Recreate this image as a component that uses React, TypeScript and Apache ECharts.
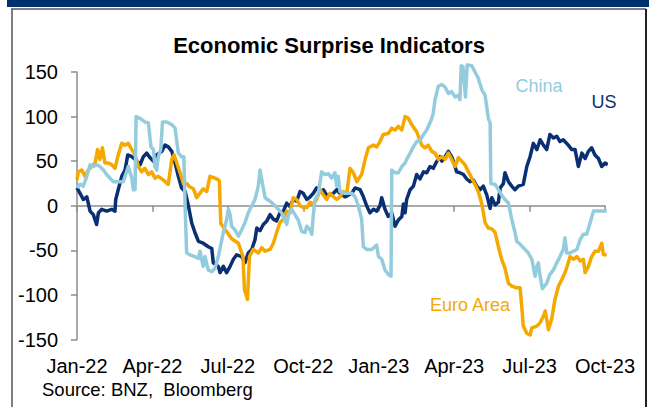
import React, { useEffect, useRef } from "react";
import * as echarts from "echarts";

// x values are months since Jan-2022
const tickLabels = ["Jan-22", "Apr-22", "Jul-22", "Oct-22", "Jan-23", "Apr-23", "Jul-23", "Oct-23"];

const usData: number[][] = [
  [0, 20], [0.12, 14], [0.25, 7], [0.39, 10], [0.52, -6], [0.65, -10], [0.78, -21], [0.85, -8], [0.98, -4], [1.18, -6], [1.38, -4], [1.51, -6], [1.54, 7], [1.64, 18], [1.78, 33], [1.91, 40], [2.02, 57], [2.18, 55], [2.31, 52], [2.51, 46], [2.64, 55], [2.77, 59], [2.9, 54], [3.04, 50], [3.17, 57], [3.37, 61], [3.5, 68], [3.63, 66], [3.77, 61], [3.9, 48], [4.03, 33], [4.16, 20], [4.3, 16], [4.43, 0], [4.56, -19], [4.69, -30], [4.83, -40], [5.02, -42], [5.22, -46], [5.36, -48], [5.42, -64], [5.62, -68], [5.69, -75], [5.82, -68], [5.95, -75], [6.09, -68], [6.22, -60], [6.35, -55], [6.55, -57], [6.68, -64], [6.81, -53], [6.95, -49], [7.08, -38], [7.15, -25], [7.28, -28], [7.41, -21], [7.55, -17], [7.68, -10], [7.81, -15], [7.94, -17], [8.07, -8], [8.21, -6], [8.34, 3], [8.47, -1], [8.6, 7], [8.74, 5], [8.87, 16], [9.0, 14], [9.14, 7], [9.27, 10], [9.4, 14], [9.53, 20], [9.67, 16], [9.8, 18], [9.93, 12], [10.06, 12], [10.2, 14], [10.33, 18], [10.46, 14], [10.66, 10], [10.93, 14], [11.06, 20], [11.26, 18], [11.39, 10], [11.52, 0], [11.65, -8], [11.79, -4], [11.92, -6], [12.05, 0], [12.12, 9], [12.25, -4], [12.38, -12], [12.52, -8], [12.65, -23], [12.78, -16], [12.92, -12], [12.98, 2], [13.05, -8], [13.11, 7], [13.25, 18], [13.38, 22], [13.51, 35], [13.64, 30], [13.78, 38], [13.91, 37], [14.04, 44], [14.17, 42], [14.31, 50], [14.44, 55], [14.51, 50], [14.64, 55], [14.77, 61], [14.9, 55], [14.97, 50], [15.1, 38], [15.23, 37], [15.37, 35], [15.5, 30], [15.63, 27], [15.76, 29], [15.9, 22], [16.03, 18], [16.16, 22], [16.3, 12], [16.43, -3], [16.5, 9], [16.63, 1], [16.76, 4], [16.83, 20], [16.96, 25], [17.02, 37], [17.16, 27], [17.29, 22], [17.42, 18], [17.55, 22], [17.75, 24], [17.89, 44], [18.02, 55], [18.15, 70], [18.29, 63], [18.42, 74], [18.55, 68], [18.68, 63], [18.81, 80], [18.95, 76], [19.08, 78], [19.21, 72], [19.34, 74], [19.54, 68], [19.68, 63], [19.81, 63], [19.94, 44], [20.08, 59], [20.21, 53], [20.34, 61], [20.47, 65], [20.6, 57], [20.74, 53], [20.87, 44], [21.0, 48], [21.11, 46],
];

const euroData: number[][] = [
  [0, 29], [0.05, 38], [0.19, 40], [0.32, 33], [0.45, 40], [0.58, 44], [0.72, 48], [0.82, 63], [0.91, 52], [1.01, 65], [1.11, 48], [1.25, 48], [1.38, 46], [1.51, 42], [1.64, 57], [1.78, 70], [1.91, 68], [2.04, 70], [2.18, 63], [2.31, 57], [2.44, 44], [2.57, 38], [2.7, 42], [2.84, 35], [2.97, 38], [3.1, 31], [3.23, 33], [3.43, 29], [3.63, 24], [3.77, 52], [3.86, 57], [3.97, 48], [4.1, 37], [4.23, 25], [4.36, 25], [4.49, 21], [4.63, 19], [4.76, 9], [4.89, 14], [5.02, 19], [5.16, 16], [5.29, 33], [5.49, 31], [5.62, 29], [5.66, 28], [5.72, -20], [6.15, -37], [6.42, -42], [6.6, -57], [6.66, -94], [6.78, -105], [6.86, -57], [7.01, -49], [7.21, -53], [7.35, -47], [7.48, -51], [7.68, -49], [7.81, -42], [7.94, -30], [8.07, -19], [8.21, -15], [8.34, -6], [8.47, -8], [8.6, 9], [8.74, 7], [8.87, 0], [9.0, -2], [9.14, -2], [9.27, 4], [9.4, 2], [9.53, 7], [9.67, 18], [9.8, 12], [9.93, 7], [10.06, 14], [10.2, 10], [10.33, 7], [10.46, 10], [10.59, 16], [10.73, 14], [10.86, 42], [10.99, 37], [11.13, 27], [11.32, 35], [11.46, 52], [11.59, 65], [11.79, 68], [11.92, 66], [12.05, 72], [12.18, 80], [12.38, 81], [12.52, 87], [12.65, 85], [12.78, 89], [12.92, 85], [13.05, 100], [13.18, 98], [13.31, 91], [13.51, 83], [13.71, 68], [13.84, 65], [13.97, 68], [14.11, 61], [14.24, 59], [14.37, 52], [14.51, 55], [14.64, 52], [14.77, 59], [14.9, 52], [15.04, 44], [15.17, 54], [15.3, 50], [15.43, 46], [15.57, 38], [15.7, 31], [15.83, 24], [15.96, 16], [16.1, 2], [16.23, -19], [16.36, -25], [16.5, -26], [16.63, -30], [16.76, -46], [16.89, -60], [17.02, -70], [17.16, -87], [17.29, -90], [17.49, -92], [17.62, -92], [17.69, -113], [17.75, -135], [17.89, -143], [18.02, -145], [18.09, -137], [18.29, -135], [18.42, -131], [18.55, -124], [18.62, -118], [18.68, -127], [18.75, -139], [18.88, -127], [19.01, -105], [19.15, -90], [19.28, -83], [19.41, -75], [19.54, -64], [19.61, -57], [19.74, -60], [19.88, -57], [20.01, -62], [20.14, -60], [20.21, -75], [20.34, -68], [20.47, -57], [20.6, -51], [20.74, -51], [20.87, -42], [20.94, -55], [21.07, -55],
];

const chinaData: number[][] = [
  [0, 20], [0.12, 24], [0.25, 22], [0.39, 33], [0.52, 46], [0.65, 44], [0.78, 46], [0.91, 44], [1.05, 40], [1.18, 35], [1.31, 31], [1.44, 27], [1.64, 27], [1.84, 27], [1.91, 33], [2.04, 44], [2.18, 31], [2.24, 18], [2.31, 18], [2.35, 100], [2.51, 98], [2.7, 94], [2.84, 93], [2.94, 66], [3.04, 63], [3.1, 44], [3.17, 40], [3.23, 55], [3.33, 63], [3.4, 94], [3.57, 94], [3.77, 91], [3.9, 87], [4.03, 59], [4.16, 55], [4.25, 55], [4.3, 0], [4.36, -53], [4.49, -55], [4.69, -57], [4.83, -59], [4.89, -51], [5.02, -68], [5.09, -57], [5.22, -72], [5.36, -74], [5.49, -70], [5.62, -57], [5.82, -30], [5.95, -16], [6.02, -4], [6.09, -10], [6.15, -23], [6.28, -27], [6.42, -34], [6.55, -27], [6.68, -19], [6.81, -8], [6.95, 0], [7.08, 7], [7.21, 22], [7.28, 40], [7.35, 29], [7.48, 9], [7.68, 5], [7.88, 0], [8.01, -4], [8.14, -8], [8.27, -16], [8.34, -21], [8.41, -10], [8.54, -4], [8.67, -10], [8.8, -16], [8.94, -29], [9.07, -30], [9.14, -23], [9.27, -27], [9.34, -32], [9.4, -10], [9.47, 7], [9.6, 14], [9.73, 38], [9.86, 35], [10.0, 36], [10.13, 31], [10.26, 37], [10.33, 22], [10.39, 33], [10.46, 16], [10.66, 14], [10.93, 14], [11.06, 10], [11.19, 0], [11.32, -15], [11.39, -46], [11.52, -49], [11.72, -49], [11.92, -44], [11.99, -57], [12.12, -60], [12.25, -72], [12.38, -77], [12.49, -79], [12.52, 40], [12.65, 37], [12.78, 37], [12.92, 44], [13.05, 48], [13.11, 52], [13.25, 59], [13.38, 66], [13.51, 72], [13.64, 73], [13.78, 80], [13.91, 85], [14.04, 93], [14.11, 98], [14.17, 104], [14.24, 119], [14.37, 134], [14.51, 136], [14.64, 133], [14.77, 126], [14.9, 128], [15.04, 122], [15.17, 124], [15.23, 119], [15.28, 157], [15.35, 156], [15.45, 122], [15.52, 158], [15.7, 157], [15.83, 150], [15.96, 143], [16.1, 130], [16.23, 124], [16.36, 98], [16.43, 93], [16.46, 25], [16.63, 24], [16.76, 18], [16.89, 12], [17.02, 7], [17.16, 3], [17.29, -15], [17.42, -30], [17.49, -40], [17.62, -43], [17.75, -47], [17.95, -53], [18.09, -60], [18.22, -79], [18.29, -68], [18.35, -64], [18.42, -79], [18.51, -93], [18.68, -87], [18.81, -77], [18.95, -72], [19.08, -64], [19.21, -57], [19.34, -49], [19.41, -36], [19.48, -53], [19.61, -53], [19.74, -51], [19.88, -49], [20.01, -38], [20.14, -32], [20.27, -32], [20.41, -19], [20.54, -6], [20.67, -6], [20.87, -6], [21.07, -6],
];

const FONT = "'Liberation Sans', Arial, Helvetica, sans-serif";
const US_COLOR = "#0a2f73";
const EURO_COLOR = "#f5a800";
const CHINA_COLOR = "#93cddd";
const AXIS_COLOR = "#8c8c8c";

export default function App() {
  const ref = useRef<HTMLDivElement>(null);
  useEffect(() => {
    if (!ref.current) return;
    const chart = echarts.init(ref.current, undefined, { renderer: "svg" });
    const lineSeries = (name: string, data: number[][], color: string) => ({
      name,
      type: "line",
      data,
      xAxisIndex: 0,
      yAxisIndex: 0,
      showSymbol: false,
      symbol: "none",
      clip: false,
      lineStyle: { color, width: 3.5, join: "round" },
      itemStyle: { color },
    });
    chart.setOption({
      animation: false,
      backgroundColor: "#ffffff",
      grid: { left: 77, right: 44, top: 72, bottom: 67.5, containLabel: false },
      xAxis: [
        {
          type: "value",
          min: 0,
          max: 21,
          interval: 3,
          axisLine: { show: true, onZero: true, lineStyle: { color: AXIS_COLOR, width: 1.5 } },
          axisTick: { show: true, length: 6, lineStyle: { color: AXIS_COLOR, width: 1.5 } },
          axisLabel: { show: false },
          splitLine: { show: false },
        },
        {
          type: "value",
          min: 0,
          max: 21,
          interval: 3,
          position: "bottom",
          axisLine: { show: false, onZero: false },
          axisTick: { show: false },
          axisLabel: {
            show: true,
            margin: 16,
            fontSize: 20,
            color: "#000",
            fontFamily: FONT,
            formatter: (v: number) => tickLabels[Math.round(v / 3)] ?? "",
          },
          splitLine: { show: false },
        },
      ],
      yAxis: {
        type: "value",
        min: -150,
        max: 150,
        interval: 50,
        axisLine: { show: true, lineStyle: { color: AXIS_COLOR, width: 1.5 } },
        axisTick: { show: true, length: 6, lineStyle: { color: AXIS_COLOR, width: 1.5 } },
        axisLabel: { fontSize: 20, color: "#000", fontFamily: FONT, margin: 19 },
        splitLine: { show: false },
      },
      series: [
        lineSeries("US", usData, US_COLOR),
        lineSeries("Euro Area", euroData, EURO_COLOR),
        lineSeries("China", chinaData, CHINA_COLOR),
      ],
      graphic: [
        { type: "rect", shape: { x: 7, y: 0, width: 642, height: 7 }, style: { fill: "#00306e" }, silent: true },
        { type: "line", shape: { x1: 11, y1: 9, x2: 646, y2: 9 }, style: { stroke: "#808080", lineWidth: 2 }, silent: true },
        { type: "line", shape: { x1: 12, y1: 9, x2: 12, y2: 407 }, style: { stroke: "#555555", lineWidth: 1.5 }, silent: true },
        { type: "line", shape: { x1: 646, y1: 9, x2: 646, y2: 407 }, style: { stroke: "#222222", lineWidth: 2 }, silent: true },
        {
          type: "text",
          x: 329,
          y: 45,
          style: { text: "Economic Surprise Indicators", fontSize: 22, fontWeight: "bold", fill: "#000", fontFamily: FONT, align: "center", verticalAlign: "middle" },
        },
        {
          type: "text",
          x: 539,
          y: 86,
          style: { text: "China", fontSize: 18, fill: CHINA_COLOR, fontFamily: FONT, align: "center", verticalAlign: "middle" },
        },
        {
          type: "text",
          x: 604,
          y: 102,
          style: { text: "US", fontSize: 18, fill: US_COLOR, fontFamily: FONT, align: "center", verticalAlign: "middle" },
        },
        {
          type: "text",
          x: 470,
          y: 305,
          style: { text: "Euro Area", fontSize: 18, fill: EURO_COLOR, fontFamily: FONT, align: "center", verticalAlign: "middle" },
        },
        {
          type: "text",
          x: 42,
          y: 389,
          style: { text: "Source: BNZ,  Bloomberg", fontSize: 18.5, fill: "#000", fontFamily: FONT, align: "left", verticalAlign: "middle" },
        },
      ],
    });
    return () => chart.dispose();
  }, []);
  return (
    <div
      ref={ref}
      style={{ position: "fixed", left: 0, top: 0, width: 649, height: 407, background: "#fff" }}
    />
  );
}
